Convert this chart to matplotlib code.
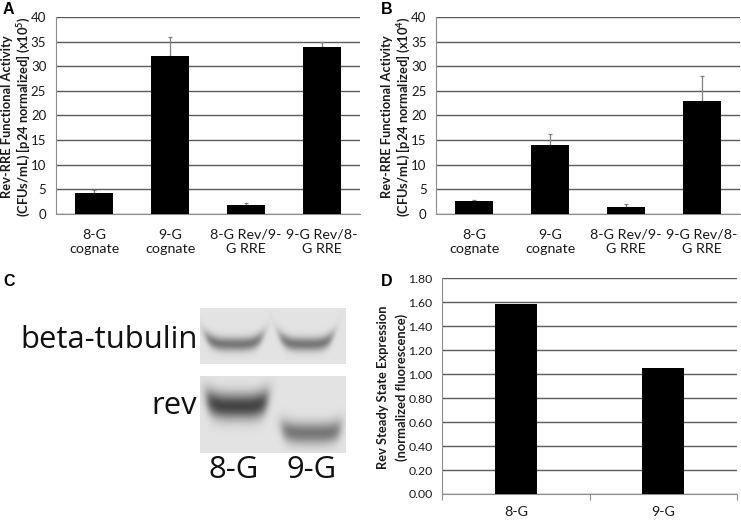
import numpy as np
import matplotlib

matplotlib.use("Agg")
import matplotlib.pyplot as plt


WIDTH = 741
HEIGHT = 520

LABELS_AB = ["8-G\ncognate", "9-G\ncognate", "8-G Rev/9-\nG RRE", "9-G Rev/8-\nG RRE"]
VALUES_A = [4.3, 32.0, 1.8, 34.0]
ERRORS_A = [0.5, 4.0, 0.4, 1.0]
VALUES_B = [2.5, 14.0, 1.4, 23.0]
ERRORS_B = [0.2, 2.3, 0.5, 5.0]
TICKS_AB = [0, 5, 10, 15, 20, 25, 30, 35, 40]

LABELS_D = ["8-G", "9-G"]
VALUES_D = [1.585, 1.05]
TICKS_D = [0.0, 0.2, 0.4, 0.6, 0.8, 1.0, 1.2, 1.4, 1.6, 1.8]

GRID_COLOR = "#5a5a5a"
AXIS_COLOR = "#8c8c8c"
TEXT_COLOR = "#1a1a1a"

plt.rcParams["font.family"] = ["Lato", "DejaVu Sans"]
plt.rcParams["mathtext.fontset"] = "custom"
plt.rcParams["mathtext.rm"] = "Lato"
plt.rcParams["mathtext.bf"] = "Lato:bold"


def pixel_axes(fig, left, top, right, bottom):
    return fig.add_axes([
        left / WIDTH,
        1 - bottom / HEIGHT,
        (right - left) / WIDTH,
        (bottom - top) / HEIGHT,
    ])


def pixel_text(fig, x, y, text, **kwargs):
    return fig.text(x / WIDTH, 1 - y / HEIGHT, text, **kwargs)


def style_axes(ax, ticks, tick_format, tick_size):
    ax.set_yticks(ticks)
    ax.set_yticklabels([tick_format.format(t) for t in ticks], fontsize=tick_size, color=TEXT_COLOR)
    ax.set_ylim(ticks[0], ticks[-1])
    ax.grid(axis="y", color=GRID_COLOR, linewidth=1.0)
    ax.set_axisbelow(True)
    ax.spines["top"].set_visible(False)
    ax.spines["right"].set_visible(False)
    ax.spines["left"].set_color(AXIS_COLOR)
    ax.spines["bottom"].set_color(AXIS_COLOR)
    ax.tick_params(axis="y", length=0, pad=7)


def activity_panel(fig, left, right, values, errors, exponent):
    ax = pixel_axes(fig, left, 17, right, 213.7)
    positions = np.arange(len(values))
    ax.bar(positions, values, width=0.5, color="black", zorder=3)
    ax.errorbar(
        positions,
        values,
        yerr=[np.zeros(len(errors)), errors],
        fmt="none",
        ecolor="#808080",
        elinewidth=0.9,
        capsize=1.5,
        capthick=0.9,
        zorder=2,
    )
    ax.set_xlim(-0.5, len(values) - 0.5)
    ax.set_xticks(positions)
    ax.set_xticklabels(LABELS_AB, fontsize=10.3, color=TEXT_COLOR, linespacing=1.25)
    ax.tick_params(axis="x", length=0, pad=11)
    style_axes(ax, TICKS_AB, "{:d}", 9.5)

    y_label_x = left - 49
    pixel_text(
        fig, y_label_x, 117, "Rev-RRE Functional Activity",
        rotation=90, ha="center", va="center", fontsize=9.3, fontweight="bold", color=TEXT_COLOR,
    )
    pixel_text(
        fig, y_label_x + 16, 117,
        "(CFUs/mL) [p24 normalized] (x10$^{\\mathbf{" + exponent + "}}$)",
        rotation=90, ha="center", va="center", fontsize=9.3, fontweight="bold", color=TEXT_COLOR,
    )


def band(xx, yy, x0, x1, y_mid, lift, sigma, depth):
    # smile shaped gel band, blurred at both ends
    mid = (x0 + x1) / 2
    half = (x1 - x0) / 2
    centre = y_mid - lift * ((xx - mid) / half) ** 4
    across = np.exp(-((yy - centre) / sigma) ** 2)
    along = 1 / (1 + np.exp((x0 - xx) / 2.5)) * 1 / (1 + np.exp((xx - x1) / 2.5))
    return depth * across * along


def blot_panel(fig, top, bottom, bands):
    ax = pixel_axes(fig, 200, top, 346, bottom)
    xx, yy = np.meshgrid(np.arange(200, 346, 0.5), np.arange(top, bottom, 0.5))
    image = np.full(xx.shape, 0.89)
    for spec in bands:
        image = image - band(xx, yy, *spec)
    ax.imshow(
        np.clip(image, 0, 1),
        cmap="gray",
        vmin=0,
        vmax=1,
        extent=(200, 346, bottom, top),
        aspect="auto",
        interpolation="bilinear",
    )
    ax.axis("off")


def main() -> None:
    fig = plt.figure(figsize=(WIDTH / 100, HEIGHT / 100), dpi=100)

    activity_panel(fig, 56, 360, VALUES_A, ERRORS_A, "5")
    activity_panel(fig, 436.3, 740, VALUES_B, ERRORS_B, "4")

    # Panel C, gel image and its labels
    blot_panel(fig, 308, 364, [
        (206, 262, 344, 8, 7, 0.42),
        (280, 332, 344, 8, 7, 0.42),
    ])
    blot_panel(fig, 376, 453, [
        (207, 267, 406, 7, 13, 0.62),
        (282, 340, 433, 5, 11, 0.42),
    ])
    blot_font = ["Open Sans", "DejaVu Sans"]
    pixel_text(fig, 198, 348, "beta-tubulin", ha="right", va="baseline", fontsize=22.3, family=blot_font, color="#111111")
    pixel_text(fig, 197, 414, "rev", ha="right", va="baseline", fontsize=22.3, family=blot_font, color="#111111")
    pixel_text(fig, 234, 478, "8-G", ha="center", va="baseline", fontsize=22.3, family=blot_font, color="#111111")
    pixel_text(fig, 312, 478, "9-G", ha="center", va="baseline", fontsize=22.3, family=blot_font, color="#111111")

    # Panel D
    ax = pixel_axes(fig, 442.3, 278.3, 736.7, 494)
    positions = np.arange(len(VALUES_D))
    ax.bar(positions, VALUES_D, width=0.285, color="black", zorder=3)
    ax.set_xlim(-0.5, 1.5)
    ax.set_xticks([-0.5, 0.5, 1.5])
    ax.set_xticklabels([])
    ax.set_xticks(positions, labels=LABELS_D, minor=True, fontsize=10.3, color=TEXT_COLOR)
    ax.tick_params(axis="x", which="major", length=4, color=AXIS_COLOR)
    ax.tick_params(axis="x", which="minor", length=0, pad=9)
    style_axes(ax, TICKS_D, "{:.2f}", 8.8)
    pixel_text(
        fig, 383, 387, "Rev Steady State Expression",
        rotation=90, ha="center", va="center", fontsize=9.3, fontweight="bold", color=TEXT_COLOR,
    )
    pixel_text(
        fig, 402, 387, "(normalized fluorescence)",
        rotation=90, ha="center", va="center", fontsize=9.3, fontweight="bold", color=TEXT_COLOR,
    )

    letter_font = ["Liberation Sans", "DejaVu Sans"]
    for x, y, letter in [(3, 13.5, "A"), (381, 13.5, "B"), (3, 286, "C"), (381, 286, "D")]:
        pixel_text(fig, x, y, letter, ha="left", va="baseline", fontsize=11.5, fontweight="bold", family=letter_font, color="black")

    fig.savefig("out.png", dpi=100)
    plt.close(fig)


if __name__ == "__main__":
    main()
